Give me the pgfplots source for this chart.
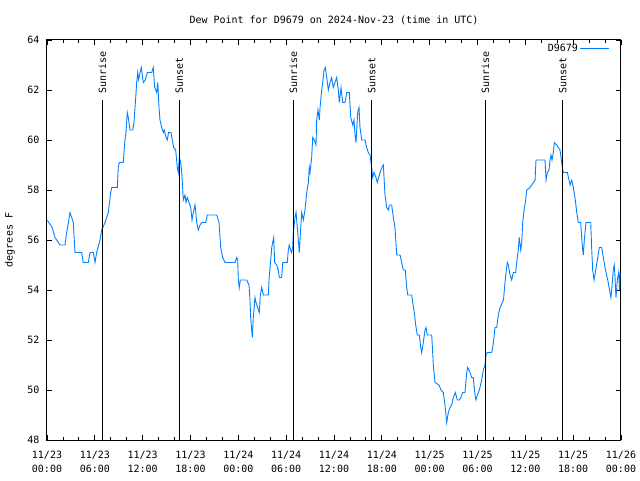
\documentclass[border=0pt]{standalone}
\usepackage{pgfplots}
\pgfplotsset{compat=1.18}
\usepackage{fontspec}
\setmainfont{DejaVu Sans Mono}
\definecolor{dew}{RGB}{0,128,255}
\begin{document}
\begin{tikzpicture}[font=\fontsize{10}{12.5}\selectfont]
\useasboundingbox (-47pt,-40pt) rectangle (593pt,440pt);
\begin{axis}[
  at={(0,0)}, anchor=south west,
  scale only axis, width=574pt, height=400pt,
  xmin=0, xmax=72, ymin=48, ymax=64,
  xtick={0,6,...,72},
  minor x tick num=2,
  ytick={48,50,...,64},
  xticklabels={{11/23\\00:00},{11/23\\06:00},{11/23\\12:00},{11/23\\18:00},{11/24\\00:00},{11/24\\06:00},{11/24\\12:00},{11/24\\18:00},{11/25\\00:00},{11/25\\06:00},{11/25\\12:00},{11/25\\18:00},{11/26\\00:00}},
  xticklabel style={align=center, yshift=-8pt, font=\fontsize{10}{13.3}\selectfont},
  yticklabel style={xshift=-4pt},
  tick align=inside,
  major tick length=5pt, minor tick length=3pt,
  tick style={black, line width=0.8pt},
  axis line style={line width=1pt},
  /pgf/number format/assume math mode=true,
  legend plot pos=right,
  legend cell align=right,
  legend style={at={(1,1)}, anchor=north east, draw=none, fill=none, xshift=-8pt, yshift=0pt, font=\fontsize{10}{12}\selectfont},
  legend image code/.code={\draw[#1] (5pt,0pt) -- (34pt,0pt);},
]
\addplot[dew, line width=0.9pt] table {
x y
0.00 56.8
0.66 56.5
1.00 56.1
1.63 55.8
2.26 55.8
2.47 56.3
2.89 57.1
3.30 56.7
3.51 55.5
4.35 55.5
4.55 55.1
5.18 55.1
5.39 55.5
5.81 55.5
6.02 55.1
6.23 55.5
6.65 56.0
6.86 56.4
7.28 56.7
7.69 57.1
7.99 57.9
8.12 58.1
8.82 58.1
8.94 58.9
9.07 59.1
9.57 59.1
9.78 60.0
9.91 60.3
10.07 61.1
10.20 60.9
10.41 60.4
10.75 60.4
10.91 60.7
11.13 61.7
11.25 62.3
11.38 62.7
11.50 62.4
11.67 62.7
11.83 62.9
12.08 62.3
12.33 62.4
12.58 62.7
13.13 62.7
13.33 62.9
13.51 62.1
13.76 61.9
13.89 62.3
14.05 61.3
14.17 60.8
14.39 60.5
14.59 60.3
14.71 60.4
14.93 60.1
15.09 60.0
15.24 60.3
15.55 60.3
15.72 60.0
15.89 59.7
16.14 59.6
16.35 58.9
16.47 58.7
16.60 59.3
16.77 59.1
16.90 58.7
17.10 57.6
17.31 57.8
17.44 57.5
17.60 57.7
17.81 57.5
18.03 57.3
18.19 56.8
18.35 57.1
18.57 57.4
18.78 56.7
18.98 56.4
19.19 56.6
19.41 56.7
19.91 56.7
20.11 57.0
21.29 57.0
21.58 56.7
21.79 55.7
22.04 55.3
22.33 55.1
23.58 55.1
23.80 55.3
23.92 55.2
24.00 54.4
24.12 54.1
24.25 54.4
25.05 54.4
25.34 54.2
25.46 53.6
25.55 52.9
25.75 52.1
25.88 52.9
26.09 53.7
26.22 53.5
26.51 53.2
26.63 53.1
26.76 53.8
26.93 54.1
27.06 53.9
27.16 53.8
27.76 53.8
27.85 54.4
28.06 55.2
28.19 55.7
28.31 55.9
28.44 56.1
28.56 55.1
28.81 55.0
29.01 54.8
29.14 54.5
29.44 54.5
29.57 55.1
30.14 55.1
30.27 55.6
30.39 55.8
30.57 55.6
30.69 55.5
30.82 55.7
30.90 56.3
31.11 56.9
31.24 57.1
31.40 56.5
31.65 55.5
31.83 56.5
31.95 57.1
32.15 56.8
32.36 57.2
32.58 57.9
32.78 58.3
32.90 58.9
32.99 58.7
33.20 59.3
33.33 60.1
33.53 60.0
33.74 59.8
33.83 60.8
33.99 61.2
34.16 60.8
34.25 61.3
34.46 62.0
34.58 62.3
34.75 62.8
34.91 62.9
35.09 62.5
35.29 62.0
35.50 62.3
35.71 62.5
35.91 62.1
36.34 62.5
36.54 62.0
36.67 61.5
36.88 62.1
37.09 61.5
37.38 61.5
37.59 61.9
37.92 61.9
38.10 60.9
38.35 60.6
38.51 60.8
38.64 60.2
38.76 59.9
38.97 61.1
39.14 61.3
39.26 60.5
39.48 60.0
39.89 60.0
40.10 59.7
40.30 59.5
40.52 59.4
40.73 58.9
40.86 58.5
41.02 58.7
41.27 58.5
41.43 58.3
41.68 58.6
41.99 58.9
42.19 59.0
42.40 57.8
42.61 57.3
42.81 57.2
42.94 57.4
43.24 57.4
43.44 56.9
43.65 56.5
43.87 55.4
44.28 55.4
44.49 55.1
44.69 54.8
44.94 54.8
45.12 54.1
45.25 53.8
45.75 53.8
45.87 53.5
46.07 53.1
46.25 52.6
46.45 52.2
46.70 52.2
46.88 51.7
47.00 51.5
47.20 51.9
47.42 52.4
47.54 52.5
47.70 52.2
48.26 52.2
48.46 51.0
48.67 50.3
49.17 50.2
49.42 50.0
49.71 49.9
49.92 49.4
50.14 48.7
50.34 49.1
50.55 49.3
50.76 49.4
50.97 49.7
51.22 49.9
51.47 49.6
51.72 49.6
51.93 49.7
52.14 49.9
52.43 49.9
52.65 50.7
52.77 50.9
53.06 50.7
53.27 50.5
53.47 50.5
53.69 49.8
53.81 49.6
53.98 49.8
54.23 50.0
54.53 50.4
54.73 50.8
54.94 51.0
55.07 51.4
55.23 51.5
55.78 51.5
55.91 51.7
56.07 52.1
56.20 52.5
56.41 52.5
56.61 53.0
56.83 53.3
57.11 53.5
57.26 53.6
57.45 54.3
57.58 54.7
57.74 55.1
57.87 55.0
58.08 54.6
58.29 54.4
58.49 54.7
58.79 54.7
58.92 55.1
59.12 55.6
59.24 56.1
59.42 55.6
59.55 55.9
59.67 56.7
59.84 57.2
60.00 57.5
60.18 58.0
60.59 58.1
61.00 58.3
61.22 58.4
61.34 59.2
62.47 59.2
62.60 58.4
62.76 58.7
62.97 58.8
63.10 59.2
63.22 59.4
63.35 59.2
63.51 59.5
63.64 59.9
63.94 59.8
64.14 59.7
64.35 59.6
64.48 59.3
64.64 58.9
64.77 58.7
65.27 58.7
65.48 58.4
65.61 58.2
65.82 58.4
66.02 58.1
66.23 57.7
66.45 57.1
66.65 56.7
66.95 56.7
67.07 56.1
67.20 55.6
67.27 55.4
67.40 56.0
67.52 56.4
67.61 56.7
68.20 56.7
68.33 55.6
68.45 54.8
68.62 54.4
68.83 54.8
69.03 55.2
69.28 55.7
69.58 55.7
69.78 55.3
69.99 54.9
70.20 54.6
70.40 54.3
70.61 53.9
70.74 53.7
70.91 54.3
71.03 54.8
71.16 55.0
71.25 54.5
71.37 53.7
71.54 54.4
71.71 54.7
71.82 54.0
71.88 54.7
};
\addlegendentry{D9679}
\addplot[black, line width=1pt, forget plot] coordinates {(6.94,48) (6.94,61.6)};
\addplot[black, line width=1pt, forget plot] coordinates {(16.6,48) (16.6,61.6)};
\addplot[black, line width=1pt, forget plot] coordinates {(30.9,48) (30.9,61.6)};
\addplot[black, line width=1pt, forget plot] coordinates {(40.73,48) (40.73,61.6)};
\addplot[black, line width=1pt, forget plot] coordinates {(54.98,48) (54.98,61.6)};
\addplot[black, line width=1pt, forget plot] coordinates {(64.69,48) (64.69,61.6)};
\node[rotate=90, anchor=west, inner sep=0pt] at (axis cs:6.94,61.85) {Sunrise};
\node[rotate=90, anchor=west, inner sep=0pt] at (axis cs:16.6,61.85) {Sunset};
\node[rotate=90, anchor=west, inner sep=0pt] at (axis cs:30.9,61.85) {Sunrise};
\node[rotate=90, anchor=west, inner sep=0pt] at (axis cs:40.73,61.85) {Sunset};
\node[rotate=90, anchor=west, inner sep=0pt] at (axis cs:54.98,61.85) {Sunrise};
\node[rotate=90, anchor=west, inner sep=0pt] at (axis cs:64.69,61.85) {Sunset};
\end{axis}
\node at (287pt,420pt) {Dew Point for D9679 on 2024-Nov-23 (time in UTC)};
\node[rotate=90] at (-37pt,200pt) {degrees F};
\end{tikzpicture}
\end{document}
